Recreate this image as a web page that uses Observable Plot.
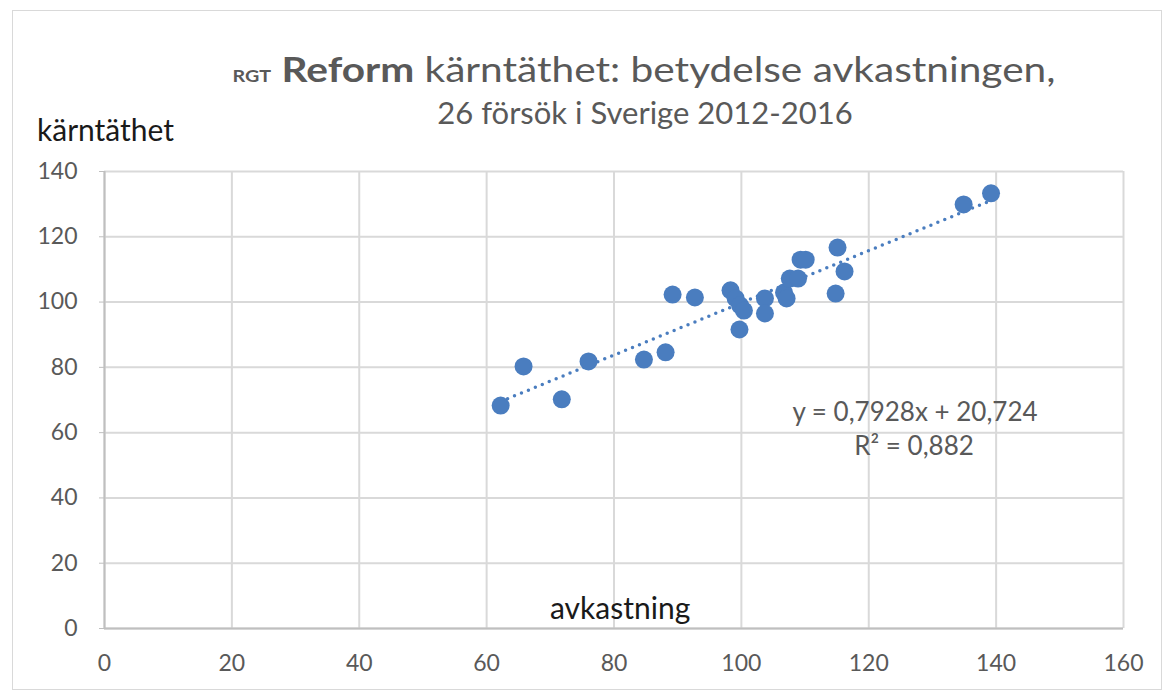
<!DOCTYPE html>
<html>
<head>
<meta charset="utf-8">
<script src="https://cdn.jsdelivr.net/npm/d3@7"></script>
<script src="https://cdn.jsdelivr.net/npm/@observablehq/plot@0.6"></script>
<style>
  html, body { margin: 0; padding: 0; background: #fff; }
  #wrap { position: relative; width: 1166px; height: 697px; font-family: Lato, "Open Sans", sans-serif; }
  #frame { position: absolute; left: 12px; top: 10px; width: 1150px; height: 680px; border: 1.5px solid #d9d9d9; box-sizing: border-box; }
  .t { position: absolute; white-space: nowrap; color: #595959; }
</style>
</head>
<body>
<div id="wrap">
  <div id="frame"></div>
  <div id="chart" style="position:absolute;left:0;top:0;"></div>
  <div class="t" id="title" style="left:0;width:1288px;text-align:center;top:47px;font-size:35px;transform:scaleX(1.16);transform-origin:644px 50%;">
    <span style="font-size:17px;font-weight:700;">RGT</span> <b>Reform</b> kärntäthet: betydelse avkastningen,
  </div>
  <div class="t" id="subtitle" style="left:0;width:1290px;text-align:center;top:93px;font-size:31px;">26 försök i Sverige 2012-2016</div>
  <div class="t" style="left:37px;top:111px;font-size:30px;color:#1a1a1a;">kärntäthet</div>
  <div class="t" style="left:550px;top:589px;font-size:30px;color:#1a1a1a;">avkastning</div>
  <div class="t" id="eq1" style="left:0;width:1830px;text-align:center;top:395px;font-size:26px;">y = 0,7928x + 20,724</div>
  <div class="t" id="eq2" style="left:0;width:1828px;text-align:center;top:429px;font-size:26px;">R² = 0,882</div>
</div>
<script>
// avkastning (x) and kärntäthet (y), 26 försök
const avkastning = [62.2, 65.8, 71.8, 76.0, 84.7, 88.1, 89.2, 92.7,
  98.3, 99.1, 99.8, 100.4, 99.7, 103.7, 103.7, 106.7, 107.1, 107.6, 108.9,
  109.3, 110.1, 115.1, 116.2, 114.8, 134.9, 139.2];
const karntathet = [68.3, 80.3, 70.2, 81.8, 82.4, 84.6, 102.3, 101.4,
  103.6, 101.1, 99.0, 97.4, 91.6, 101.1, 96.5, 102.9, 101.1, 107.2, 107.2,
  113.0, 113.0, 116.7, 109.4, 102.6, 129.9, 133.3];
const xTicks = [0, 20, 40, 60, 80, 100, 120, 140, 160];
const yTicks = [0, 20, 40, 60, 80, 100, 120, 140];

const data = avkastning.map((x, i) => ({x, y: karntathet[i]}));
const blue = "#4a7dbf";

const chart = Plot.plot({
  width: 1166,
  height: 697,
  marginLeft: 104,
  marginRight: 43,
  marginTop: 171,
  marginBottom: 69,
  style: {fontFamily: "Lato, 'Open Sans', sans-serif", background: "transparent", overflow: "visible"},
  x: {domain: [0, 160], ticks: xTicks, label: null},
  y: {domain: [0, 140], ticks: yTicks, label: null},
  marks: [
    Plot.gridX(xTicks, {stroke: "#d9d9d9", strokeOpacity: 1, strokeWidth: 2}),
    Plot.gridY(yTicks, {stroke: "#d9d9d9", strokeOpacity: 1, strokeWidth: 2}),
    Plot.ruleX([0], {stroke: "#bfbfbf", strokeWidth: 2}),
    Plot.ruleY([0], {stroke: "#bfbfbf", strokeWidth: 2}),
    Plot.axisY(yTicks, {tickSize: 5, stroke: "#bfbfbf", tickPadding: 22, fontSize: 23, fill: "#595959", label: null}),
    Plot.axisX(xTicks, {tickSize: 0, tickPadding: 26, fontSize: 23, fill: "#595959", label: null}),
    Plot.linearRegressionY(data, {x: "x", y: "y", ci: 0, stroke: blue, strokeWidth: 3.5, strokeDasharray: "0 7.5", strokeLinecap: "round"}),
    Plot.dot(data, {x: "x", y: "y", r: 9, fill: blue, stroke: "none"})
  ]
});
document.getElementById("chart").appendChild(chart);
</script>
</body>
</html>
